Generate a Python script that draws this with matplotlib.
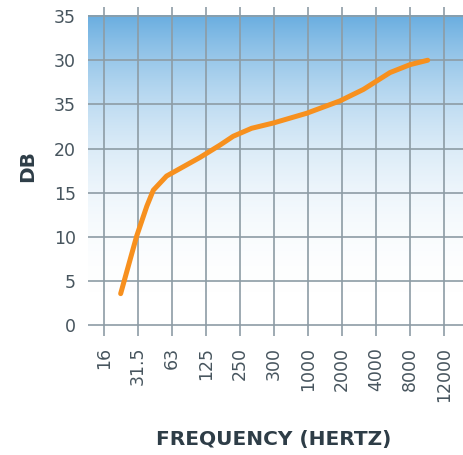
import numpy as np
import matplotlib
matplotlib.use("Agg")
import matplotlib.pyplot as plt
from matplotlib.colors import LinearSegmentedColormap

# ---- data ----
freq_labels = ["16", "31.5", "63", "125", "250", "300", "1000", "2000", "4000", "8000", "12000"]
y_ticks = [0, 5, 10, 15, 20, 25, 30, 35]
y_tick_labels = ["0", "5", "10", "15", "20", "35", "30", "35"]
# curve points: position along category axis, dB value
curve_pos = [0.49, 0.96, 1.26, 1.45, 1.84, 2.82, 3.41, 3.8, 4.34, 4.98, 5.96, 6.94, 7.63, 8.41, 9.0, 9.52]
curve_db = [3.6, 10.1, 13.5, 15.3, 16.9, 19.0, 20.4, 21.4, 22.3, 22.9, 24.0, 25.4, 26.7, 28.6, 29.5, 30.0]

W, H = 464, 455
fig = plt.figure(figsize=(W / 100, H / 100), dpi=100)
ax = fig.add_axes([88 / W, (H - 336) / H, 376 / W, 329 / H])
xlim = (-0.4706, 10.588)
ylim = (-1.19, 36.02)
ax.set_xlim(*xlim)
ax.set_ylim(*ylim)
for s in ax.spines.values():
    s.set_visible(False)

# gradient background
cmap = LinearSegmentedColormap.from_list("g", ["#ffffff", "#6aaee0"])
t = np.linspace(0, 1, 256) ** 2.5
ax.imshow(t[::-1].reshape(-1, 1), cmap=cmap, vmin=0, vmax=1, aspect="auto",
          extent=[xlim[0], xlim[1], 0, 35], zorder=0, interpolation="bilinear")

grid_c = "#8d9ca5"
n = len(freq_labels)
ax.vlines(range(n), ylim[0], ylim[1], colors=grid_c, linewidth=1.2, zorder=1)
ax.hlines(y_ticks, xlim[0], xlim[1], colors=grid_c, linewidth=1.2, zorder=1)

ax.plot(curve_pos, curve_db, color="#f7901e", linewidth=3.6, solid_capstyle="round",
        solid_joinstyle="round", zorder=3)

txt_c = "#47555e"
ax.set_xticks(range(n))
ax.set_xticklabels(freq_labels, rotation=90, fontsize=12.5, color=txt_c, va="top", ha="center")
ax.set_yticks(y_ticks)
ax.set_yticklabels(y_tick_labels, fontsize=12.5, color=txt_c)
ax.tick_params(axis="both", length=0)
ax.tick_params(axis="y", pad=8.6)
ax.tick_params(axis="x", pad=7.9)

fig.text(274 / W, 1 - 440 / H, "FREQUENCY (HERTZ)", fontsize=14.5, fontweight="bold",
         color="#2e3d47", ha="center", va="center")
fig.text(28 / W, 1 - 166 / H, "DB", fontsize=14.5, fontweight="bold", rotation=90,
         color="#2e3d47", ha="center", va="center")

fig.savefig("out.png", dpi=100)
